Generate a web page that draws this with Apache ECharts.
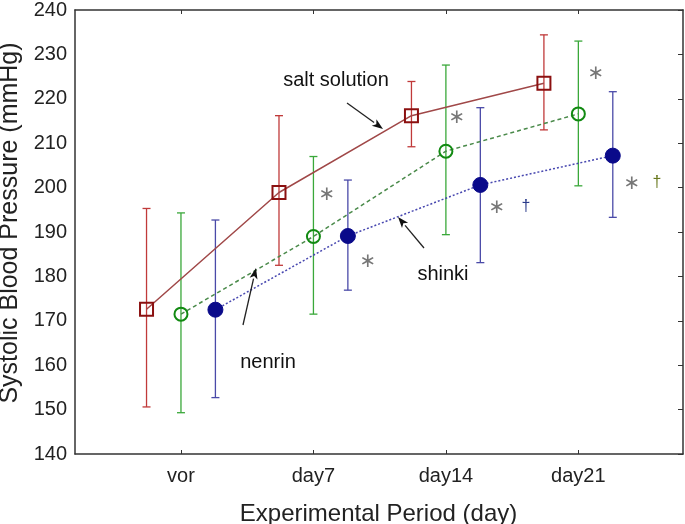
<!DOCTYPE html>
<html><head><meta charset="utf-8">
<script src="https://cdn.jsdelivr.net/npm/echarts@6/dist/echarts.min.js"></script>
<style>html,body{margin:0;padding:0;background:#fff}#c{width:685px;height:524px}</style>
</head><body><div id="c"></div>
<script>
// ---- data ----
const categories = ['vor', 'day7', 'day14', 'day21'];
const saltMean   = [172.6, 198.9, 216.2, 223.5];
const saltHigh   = [195.3, 216.2, 223.9, 234.4];
const saltLow    = [150.6, 182.5, 209.2, 213.0];
const nenrinMean = [171.5, 189.0, 208.2, 216.6];
const nenrinHigh = [194.3, 207.0, 227.6, 233.0];
const nenrinLow  = [149.3, 171.5, 189.4, 200.4];
const shinkiMean = [172.5, 189.1, 200.6, 207.2];
const shinkiHigh = [192.7, 201.7, 218.0, 221.6];
const shinkiLow  = [152.7, 176.9, 183.1, 193.3];
const seriesNames = ['salt solution', 'nenrin', 'shinki'];
const yMin = 140, yMax = 240, yStep = 10;

// ---- layout/style ----
const FONT = 'Liberation Sans';
const catPos = categories.map((c, i) => i + 1);
const offsets = [-0.26, 0, 0.26];
const colors = {
  salt:   {line: '#a04848', bar: '#c03a3a', mark: '#8b1010'},
  nenrin: {line: '#4a8a4a', bar: '#3aa83a', mark: '#128a12'},
  shinki: {line: '#4848b0', bar: '#4a4aa8', mark: '#0a0a8a'}
};

function pts(mean, off) { return mean.map((v, i) => [catPos[i] + off, v]); }
function errs(lo, hi, off) { return lo.map((v, i) => [catPos[i] + off, v, hi[i]]); }

function errSeries(name, data, color) {
  return {
    type: 'custom', name: name + ' err', data: data, z: 2,
    renderItem: function (params, api) {
      const x = api.value(0);
      const p1 = api.coord([x, api.value(1)]);
      const p2 = api.coord([x, api.value(2)]);
      const w = 4;
      const st = {stroke: color, lineWidth: 1.3};
      return {type: 'group', children: [
        {type: 'line', shape: {x1: p1[0], y1: p1[1], x2: p2[0], y2: p2[1]}, style: st},
        {type: 'line', shape: {x1: p1[0] - w, y1: p1[1], x2: p1[0] + w, y2: p1[1]}, style: st},
        {type: 'line', shape: {x1: p2[0] - w, y1: p2[1], x2: p2[0] + w, y2: p2[1]}, style: st}
      ]};
    }
  };
}

const chart = echarts.init(document.getElementById('c'), null, {renderer: 'canvas'});

function arrow(x1, y1, x2, y2) {
  const a = Math.atan2(y2 - y1, x2 - x1), L = 11, W = 4;
  const bx = x2 - L * Math.cos(a), by = y2 - L * Math.sin(a);
  const nx = -Math.sin(a) * W, ny = Math.cos(a) * W;
  return [
    {type: 'line', shape: {x1: x1, y1: y1, x2: bx, y2: by}, style: {stroke: '#222', lineWidth: 1.3}, z: 10},
    {type: 'polygon', shape: {points: [[x2, y2], [bx + nx, by + ny], [bx + L * 0.25 * Math.cos(a), by + L * 0.25 * Math.sin(a)], [bx - nx, by - ny]]}, style: {fill: '#111'}, z: 10}
  ];
}
function txt(x, y, t, size, color, extra, font) {
  return Object.assign({type: 'text', x: x, y: y, z: 10,
    style: {text: t, fontFamily: font || FONT, fontSize: size, fill: color, align: 'center', verticalAlign: 'middle'}}, extra || {});
}

const graphics = [
  txt(10.5, 223, 'Systolic Blood Pressure (mmHg)', 25, '#222', {rotation: Math.PI / 2}),
  txt(378.5, 514, 'Experimental Period (day)', 24, '#222'),
  txt(336, 80, 'salt solution', 20, '#111'),
  txt(443, 274, 'shinki', 20, '#111'),
  txt(268, 362, 'nenrin', 20, '#111'),
  ...arrow(347, 103, 383, 129),
  ...arrow(424, 248, 398, 217),
  ...arrow(243, 325, 256, 268),
  txt(327, 195, '∗', 20, '#777', null, 'DejaVu Sans'),
  txt(368, 262, '∗', 20, '#777', null, 'DejaVu Sans'),
  txt(457, 118, '∗', 20, '#777', null, 'DejaVu Sans'),
  txt(497, 208, '∗', 20, '#777', null, 'DejaVu Sans'),
  txt(596, 74, '∗', 20, '#777', null, 'DejaVu Sans'),
  txt(632, 184, '∗', 20, '#777', null, 'DejaVu Sans'),
  txt(526, 207, '†', 16, '#2a3a8a'),
  txt(657, 183, '†', 16, '#6a7a20')
];

const axisLine = {show: true, lineStyle: {color: '#333', width: 1.5}};
chart.setOption({
  animation: false,
  backgroundColor: '#fff',
  grid: {left: 75, right: 2, top: 9, bottom: 70, containLabel: false},
  xAxis: [
    {type: 'value', min: 0.2, max: 4.79, position: 'bottom', axisLine: axisLine,
     splitLine: {show: false},
     axisTick: {show: true, inside: true, length: 4, customValues: catPos, lineStyle: {color: '#333'}},
     axisLabel: {customValues: catPos, margin: 12, fontFamily: FONT, fontSize: 20, color: '#222',
                 formatter: v => categories[Math.round(v) - 1] || ''}},
    {type: 'value', min: 0.2, max: 4.79, position: 'top', axisLine: axisLine,
     splitLine: {show: false},
     axisTick: {show: true, inside: true, length: 4, customValues: catPos, lineStyle: {color: '#333'}},
     axisLabel: {show: false}}
  ],
  yAxis: [
    {type: 'value', min: yMin, max: yMax, interval: yStep, position: 'left', axisLine: axisLine,
     splitLine: {show: false}, axisTick: {show: false},
     axisLabel: {margin: 8, fontFamily: FONT, fontSize: 20, color: '#222'}},
    {type: 'value', min: yMin, max: yMax, interval: yStep, position: 'right', axisLine: axisLine,
     splitLine: {show: false}, axisTick: {show: true, inside: true, length: 5, lineStyle: {color: '#333'}},
     axisLabel: {show: false}}
  ],
  series: [
    errSeries(seriesNames[0], errs(saltLow, saltHigh, offsets[0]), colors.salt.bar),
    errSeries(seriesNames[1], errs(nenrinLow, nenrinHigh, offsets[1]), colors.nenrin.bar),
    errSeries(seriesNames[2], errs(shinkiLow, shinkiHigh, offsets[2]), colors.shinki.bar),
    {type: 'line', name: seriesNames[0], data: pts(saltMean, offsets[0]), z: 3,
     lineStyle: {color: colors.salt.line, width: 1.5, type: 'solid'},
     symbol: 'rect', symbolSize: 13, showAllSymbol: true,
     itemStyle: {color: 'rgba(255,255,255,0)', borderColor: colors.salt.mark, borderWidth: 2}},
    {type: 'line', name: seriesNames[1], data: pts(nenrinMean, offsets[1]), z: 3,
     lineStyle: {color: colors.nenrin.line, width: 1.5, type: [4, 3]},
     symbol: 'circle', symbolSize: 13, showAllSymbol: true,
     itemStyle: {color: 'rgba(255,255,255,0)', borderColor: colors.nenrin.mark, borderWidth: 2}},
    {type: 'line', name: seriesNames[2], data: pts(shinkiMean, offsets[2]), z: 3,
     lineStyle: {color: colors.shinki.line, width: 1.5, type: [2, 2]},
     symbol: 'circle', symbolSize: 15, showAllSymbol: true,
     itemStyle: {color: colors.shinki.mark, borderColor: colors.shinki.mark, borderWidth: 1}}
  ],
  graphic: graphics
});
</script>
</body></html>
